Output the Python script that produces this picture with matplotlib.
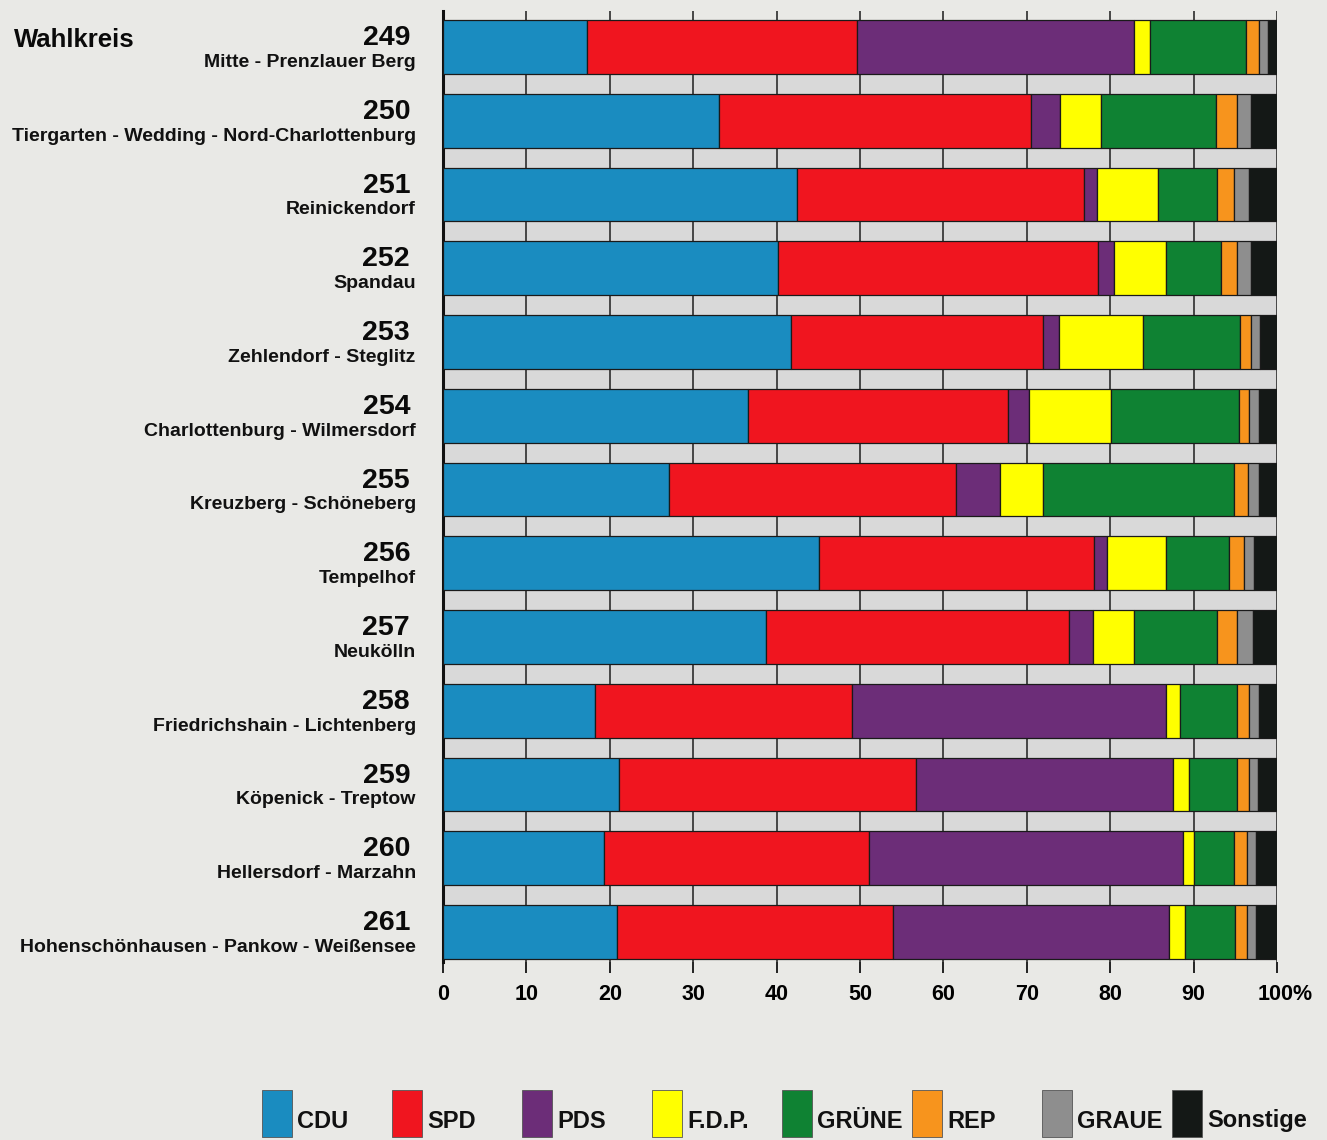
import numpy as np
import matplotlib.pyplot as plt
import matplotlib.transforms as mtransforms
from matplotlib.patches import Rectangle

plt.rcParams['font.family'] = ['Liberation Sans', 'DejaVu Sans']
NARROW = ['Liberation Sans Narrow', 'Liberation Sans', 'DejaVu Sans']

# Wahlkreise und Namen
wahlkreise = ['249', '250', '251', '252', '253', '254', '255',
              '256', '257', '258', '259', '260', '261']
namen = ['Mitte - Prenzlauer Berg',
         'Tiergarten - Wedding - Nord-Charlottenburg',
         'Reinickendorf',
         'Spandau',
         'Zehlendorf - Steglitz',
         'Charlottenburg - Wilmersdorf',
         'Kreuzberg - Schöneberg',
         'Tempelhof',
         'Neukölln',
         'Friedrichshain - Lichtenberg',
         'Köpenick - Treptow',
         'Hellersdorf - Marzahn',
         'Hohenschönhausen - Pankow - Weißensee']

parteien = ['CDU', 'SPD', 'PDS', 'F.D.P.', 'GRÜNE', 'REP', 'GRAUE', 'Sonstige']
farben = ['#1a8cc0', '#f0151f', '#6c2d78', '#ffff00', '#0f8233',
          '#f7941d', '#8e8e8e', '#141816']

# Stimmenanteile in Prozent
cdu      = [17.3, 33.1, 42.5, 40.2, 41.7, 36.6, 27.1, 45.1, 38.7, 18.2, 21.1, 19.3, 20.9]
spd      = [32.3, 37.4, 34.3, 38.3, 30.3, 31.2, 34.4, 32.9, 36.4, 30.9, 35.6, 31.8, 33.0]
pds      = [33.3, 3.5, 1.6, 2.0, 1.9, 2.5, 5.3, 1.6, 2.8, 37.6, 30.8, 37.6, 33.2]
fdp      = [1.9, 4.9, 7.3, 6.2, 10.0, 9.8, 5.2, 7.1, 4.9, 1.7, 2.0, 1.4, 1.9]
gruene   = [11.5, 13.8, 7.1, 6.6, 11.7, 15.3, 22.8, 7.6, 10.0, 6.8, 5.7, 4.7, 6.0]
rep      = [1.5, 2.5, 2.0, 1.9, 1.3, 1.2, 1.7, 1.7, 2.4, 1.5, 1.4, 1.6, 1.4]
graue    = [1.1, 1.7, 1.9, 1.7, 1.1, 1.2, 1.3, 1.3, 1.9, 1.2, 1.1, 1.1, 1.1]
sonstige = [1.1, 3.1, 3.3, 3.1, 2.0, 2.2, 2.2, 2.7, 2.9, 2.1, 2.3, 2.5, 2.5]

werte = np.array([cdu, spd, pds, fdp, gruene, rep, graue, sonstige])

bg = '#e9e9e6'
W, H = 1327, 1140
fig = plt.figure(figsize=(W / 100, H / 100), dpi=100, facecolor=bg)

ax_l, ax_r, ax_t, ax_b = 443, 1277, 11, 962
ax = fig.add_axes([ax_l / W, 1 - ax_b / H, (ax_r - ax_l) / W, (ax_b - ax_t) / H])
ax.set_facecolor(bg)

y = np.arange(len(wahlkreise))
bar_h = 0.73

# graue Streifen zwischen den Balken
ax.barh(y[:-1] + 0.5, 100, height=1 - bar_h, left=0, color='#d9d9d9',
        edgecolor='none', zorder=1)

# Gitterlinien
for xv in range(10, 101, 10):
    ax.axvline(xv, color='#3a3a3a', lw=1.3, zorder=2)

left = np.zeros(len(wahlkreise))
for werte_p, farbe in zip(werte, farben):
    ax.barh(y, werte_p, left=left, height=bar_h, color=farbe,
            edgecolor='#1a1a1a', linewidth=0.9, zorder=3)
    left += werte_p

ax.set_xlim(0, 100)
ax.set_ylim(12 + (ax_b - 932) / 73.75, -(47 - ax_t) / 73.75)

for s in ['top', 'right', 'bottom']:
    ax.spines[s].set_visible(False)
ax.spines['left'].set_linewidth(2.2)
ax.spines['left'].set_color('#111111')
ax.set_yticks([])

ax.set_xticks(range(0, 101, 10))
ax.set_xticklabels([str(v) for v in range(0, 100, 10)] + ['100%'],
                   fontsize=15.5, fontweight='bold')
ax.tick_params(axis='x', length=8, width=1.4, color='#222222', pad=8)
# "100%" etwas nach rechts, damit "100" unter dem Strich steht
lbl = ax.get_xticklabels()[-1]
lbl.set_transform(lbl.get_transform() + mtransforms.ScaledTranslation(8 / 100, 0, fig.dpi_scale_trans))

# Beschriftung links
trans = mtransforms.blended_transform_factory(ax.transAxes, ax.transData)
xoff = -33 / (ax_r - ax_l)
for i, (nr, name) in enumerate(zip(wahlkreise, namen)):
    ax.text(xoff, i - 0.12, nr, transform=trans, ha='right', va='center',
            fontsize=20.5, fontweight='bold', color='#0a0a0a')
    ax.text(xoff + 0.007, i + 0.21, name, transform=trans, ha='right', va='center',
            fontsize=14, fontweight='bold', color='#111111', family=NARROW)

fig.text(14 / W, 1 - 40 / H, 'Wahlkreis', ha='left', va='center',
         fontsize=18.5, fontweight='bold', color='#0a0a0a')

# Legende
lax = fig.add_axes([0, 0, 1, 80 / H])
lax.set_xlim(0, W)
lax.set_ylim(80, 0)
lax.axis('off')
for i, (partei, farbe) in enumerate(zip(parteien, farben)):
    x0 = 262 + i * 130
    lax.add_patch(Rectangle((x0, 30), 30, 47, facecolor=farbe,
                            edgecolor='#555555', linewidth=0.6))
    lax.text(x0 + 35, 61, partei, ha='left', va='center', fontsize=17,
             fontweight='bold', color='#111111', family=NARROW)

fig.savefig('out.png', dpi=100, facecolor=bg)
